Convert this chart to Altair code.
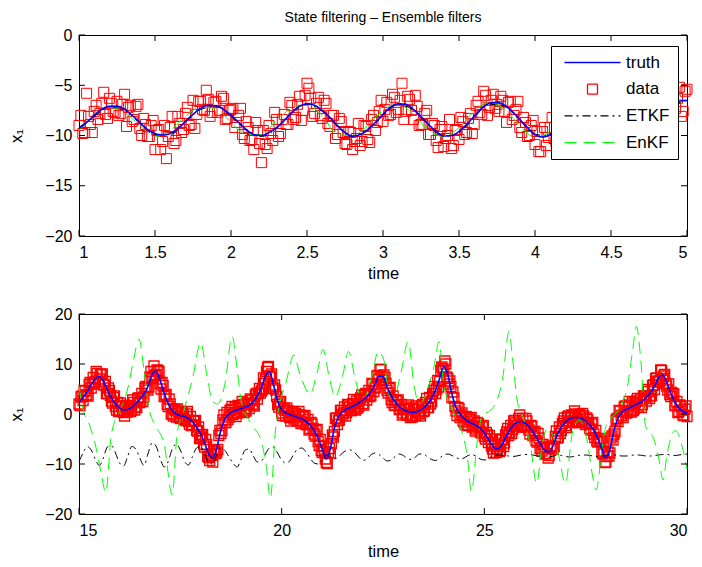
import altair as alt
import pandas as pd

FONT = "Liberation Sans"
W = 608
H1 = 201
H2 = 200

SERIES = ["truth", "data", "ETKF", "EnKF"]
COLORS = ["#0000ff", "#ff0000", "#000000", "#00ff00"]

# ---------------- top panel values ----------------
top_t_fine = [round(1.0 + 0.05 * i, 3) for i in range(81)]
top_truth = [-9.3, -8.7, -8.0, -7.4, -7.1, -7.1, -7.4, -8.0, -8.7, -9.4,
             -9.8, -9.95, -9.8, -9.3, -8.6, -7.9, -7.3, -7.0, -7.05, -7.4,
             -8.0, -8.7, -9.4, -9.9, -10.0, -9.7, -9.2, -8.5, -7.7, -7.1,
             -6.85, -7.0, -7.5, -8.2, -9.0, -9.7, -10.05, -9.9, -9.4, -8.7,
             -7.9, -7.2, -6.85, -6.9, -7.4, -8.1, -8.9, -9.6, -10.05, -10.0,
             -9.6, -8.9, -8.1, -7.3, -6.8, -6.7, -7.0, -7.6, -8.4, -9.2,
             -9.9, -10.15, -9.9, -9.3, -8.5, -7.7, -7.0, -6.65, -6.8, -7.3,
             -8.1, -9.0, -9.7, -10.15, -10.1, -9.6, -8.8, -7.9, -7.1, -6.6,
             -6.5]

top_t_data = [round(1.0 + 0.025 * i, 4) for i in range(161)]
top_data = [-9.0, -9.8, -5.8, -8.9, -7.6, -8.4, -6.8, -7.9, -6.3, -7.6,
            -6.6, -7.8, -5.9, -7.2, -8.6, -7.1, -9.3, -8.3, -10.1, -9.0,
            -11.4, -9.4, -10.6, -12.3, -9.2, -10.8, -8.1, -9.7, -7.8, -9.0,
            -6.5, -7.9, -6.6, -7.5, -6.4, -7.7, -6.6, -7.5, -6.3, -8.3,
            -7.4, -9.2, -8.0, -9.9, -8.6, -10.5, -11.4, -9.5, -12.7, -10.9,
            -9.0, -10.5, -8.4, -9.8, -7.9, -8.9, -7.0, -8.2, -6.1, -7.5,
            -4.8, -6.3, -7.8, -6.2, -8.3, -6.8, -9.1, -8.0, -9.9, -8.6,
            -10.8, -9.6, -11.4, -10.3, -11.0, -9.0, -10.4, -8.4, -9.5, -7.6,
            -8.6, -6.7, -7.9, -6.2, -7.4, -4.8, -7.6, -6.4, -8.4, -7.1,
            -8.9, -7.8, -9.9, -8.8, -10.5, -9.4, -11.1, -10.0, -11.3, -9.5,
            -10.4, -8.6, -9.7, -7.8, -8.9, -6.6, -7.9, -6.0, -7.2, -5.9,
            -6.9, -6.1, -7.6, -6.7, -8.4, -7.4, -9.2, -8.2, -10.1, -9.0,
            -10.9, -11.6, -9.6, -11.0, -9.2, -10.3, -8.5, -9.6, -7.9, -8.8,
            -7.0, -8.0, -6.3, -7.4, -5.9, -7.2, -6.1, -7.8, -6.6, -8.5,
            -7.4, -9.4, -8.2, -10.3, -9.0, -10.9, -9.7, -11.2, -9.5, -10.8,
            -8.9, -10.0, -8.0, -9.1, -7.2, -8.1, -6.0, -7.3, -5.2, -7.6,
            -5.4]

top_t_data2 = [round(1.0125 + 0.025 * i, 4) for i in range(160)]
top_data2 = [-8.0, -9.7, -8.1, -9.7, -7.0, -7.8, -5.7, -8.3, -6.8, -7.7,
             -8.0, -6.9, -9.1, -7.0, -8.4, -6.9, -10.0, -8.9, -10.1, -8.5,
             -9.5, -11.4, -9.0, -10.1, -8.1, -10.5, -8.8, -9.4, -7.2, -8.9,
             -9.3, -6.6, -7.4, -5.5, -8.1, -6.7, -7.7, -6.1, -8.4, -7.5,
             -7.3, -8.7, -7.3, -10.3, -9.2, -10.4, -8.7, -10.8, -9.5, -11.3,
             -9.8, -7.7, -10.1, -8.4, -8.9, -6.7, -8.4, -6.9, -8.5, -6.0,
             -5.3, -8.1, -6.8, -8.0, -6.5, -8.8, -8.0, -10.3, -8.3, -9.7,
             -10.9, -9.7, -10.6, -8.8, -10.6, -9.1, -10.7, -8.0, -8.7, -6.5,
             -7.4, -8.0, -5.9, -7.7, -6.5, -8.4, -6.1, -7.5, -6.0, -9.0,
             -8.9, -7.5, -9.9, -9.0, -11.2, -9.1, -10.3, -8.4, -11.0, -9.4,
             -8.2, -9.9, -8.3, -9.8, -7.0, -7.7, -5.6, -8.0, -6.5, -7.3,
             -7.6, -6.5, -8.7, -6.6, -8.0, -6.6, -9.7, -8.7, -10.0, -8.5,
             -9.6, -11.6, -9.2, -10.2, -8.2, -10.6, -8.8, -9.3, -7.1, -8.7,
             -9.0, -6.3, -7.1, -5.1, -7.8, -6.5, -7.5, -6.0, -8.3, -7.5,
             -7.4, -9.0, -7.6, -10.6, -9.5, -10.7, -9.0, -10.9, -9.6, -11.2,
             -9.6, -7.4, -9.7, -7.8, -8.3, -6.1, -7.8, -6.3, -8.1, -5.6]

top_t_filt = [round(1.0 + 0.1 * i, 3) for i in range(41)]
top_etkf = [-9.2, -8.1, -7.2, -7.5, -8.8, -9.9, -9.9, -8.7, -7.4, -7.1,
            -8.1, -9.5, -10.1, -9.3, -7.8, -6.9, -7.6, -9.1, -10.1, -9.5,
            -8.0, -6.9, -7.5, -9.0, -10.1, -9.7, -8.2, -6.9, -7.1, -8.5,
            -9.9, -10.0, -8.6, -7.1, -6.9, -8.2, -9.8, -10.2, -8.9, -7.2,
            -6.5]
top_enkf = [-9.5, -7.9, -7.2, -7.7, -9.0, -10.1, -9.5, -8.1, -7.2, -7.3,
            -8.7, -9.9, -9.9, -8.5, -7.3, -7.0, -8.0, -9.9, -10.0, -9.0,
            -7.5, -6.9, -7.9, -9.5, -10.1, -9.2, -7.6, -6.7, -7.4, -9.0,
            -10.2, -9.6, -8.0, -6.8, -7.1, -8.8, -10.1, -9.8, -8.3, -6.8,
            -6.3]

# ---------------- bottom panel values ----------------
bot_t_fine = [round(15.0 + 0.1 * i, 3) for i in range(151)]
bot_truth = [2.3, 3.3, 4.5, 5.8, 7.0, 7.5, 6.6, 4.8, 3.2, 2.0,
             1.2, 0.8, 0.9, 1.3, 2.0, 2.9, 4.0, 5.5, 7.8, 8.6,
             6.8, 4.2, 2.1, 0.7, 0.0, -0.3, -0.5, -0.9, -1.6, -2.6,
             -4.0, -5.8, -8.0, -8.8, -6.8, -3.2, -1.0, 0.0, 0.5, 0.8,
             1.1, 1.4, 1.7, 2.5, 3.6, 5.3, 7.6, 8.4, 5.8, 2.6,
             0.8, 0.2, -0.1, -0.4, -0.7, -1.0, -1.5, -2.2, -3.3, -4.8,
             -7.0, -9.0, -7.0, -2.8, -0.6, 0.4, 1.0, 1.3, 1.7, 2.2,
             2.8, 3.4, 4.4, 5.8, 7.6, 7.5, 5.4, 3.6, 2.4, 1.5,
             0.9, 0.5, 0.3, 0.4, 0.7, 1.2, 2.0, 3.2, 4.8, 7.2,
             9.5, 7.8, 4.0, 1.3, 0.0, -0.9, -1.5, -1.9, -2.3, -2.9,
             -3.8, -5.0, -6.3, -7.0, -6.6, -5.1, -3.6, -2.4, -1.7, -1.5,
             -1.8, -2.5, -3.6, -4.9, -6.2, -7.3, -7.6, -6.3, -4.1, -2.6,
             -1.6, -1.0, -0.7, -0.7, -0.9, -1.4, -2.2, -3.3, -4.9, -7.0,
             -8.8, -7.0, -3.3, -0.8, 0.4, 0.9, 1.3, 1.7, 2.1, 2.6,
             3.3, 4.3, 5.6, 7.3, 7.8, 6.3, 4.2, 2.4, 1.2, 0.5,
             0.2]

bot_t_data = [round(15.0 + 0.05 * i, 4) for i in range(301)]
bot_data = [2.0, 3.4, 2.7, 4.6, 3.8, 5.9, 5.2, 7.3, 6.4, 8.1,
            7.0, 7.9, 5.9, 6.5, 4.1, 4.7, 2.6, 3.3, 1.5, 2.3,
            0.6, 1.6, 0.3, 1.4, 0.4, 1.7, 0.8, 2.3, 1.4, 3.1,
            2.3, 4.1, 3.4, 5.5, 4.8, 7.4, 7.1, 9.6, 7.9, 8.7,
            6.1, 6.3, 3.5, 3.9, 1.5, 2.0, 0.1, 1.0, -0.6, 0.5,
            -0.9, 0.2, -1.1, 0.0, -1.5, -0.5, -2.2, -1.4, -3.3, -2.6,
            -4.7, -4.1, -6.6, -6.1, -8.7, -8.0, -9.6, -7.4, -7.6, -4.3,
            -3.9, -1.2, -1.7, 0.3, -0.6, 0.9, -0.1, 1.3, 0.2, 1.6,
            0.5, 1.9, 0.8, 2.2, 1.1, 2.7, 1.9, 3.8, 3.0, 5.1,
            4.6, 7.2, 6.9, 9.3, 7.6, 8.0, 5.1, 4.8, 1.9, 2.2,
            0.2, 1.1, -0.4, 0.7, -0.7, 0.4, -1.0, 0.1, -1.3, -0.2,
            -1.6, -0.5, -2.1, -1.1, -2.9, -2.0, -4.0, -3.3, -5.5, -5.1,
            -7.7, -7.5, -9.7, -7.7, -7.8, -4.2, -3.5, -0.8, -1.3, 0.7,
            -0.2, 1.4, 0.3, 1.8, 0.7, 2.1, 1.0, 2.6, 1.5, 3.2,
            2.1, 3.8, 2.8, 4.7, 3.7, 5.9, 5.2, 7.6, 6.9, 8.9,
            6.8, 7.3, 4.7, 5.1, 2.9, 3.6, 1.7, 2.6, 0.9, 1.9,
            0.2, 1.4, -0.2, 1.1, -0.4, 1.0, -0.3, 1.2, 0.0, 1.6,
            0.5, 2.3, 1.3, 3.3, 2.5, 4.7, 4.1, 6.7, 6.5, 9.4,
            8.8, 10.0, 7.1, 6.6, 3.3, 3.2, 0.6, 1.3, -0.7, 0.2,
            -1.6, -0.5, -2.2, -1.0, -2.6, -1.4, -3.0, -1.9, -3.6, -2.6,
            -4.5, -3.7, -5.7, -5.0, -7.0, -6.1, -7.7, -6.2, -7.3, -5.2,
            -5.8, -3.6, -4.3, -2.3, -3.1, -1.3, -2.4, -0.9, -2.2, -0.9,
            -2.5, -1.4, -3.2, -2.3, -4.3, -3.5, -5.6, -4.8, -6.9, -6.1,
            -8.0, -6.9, -8.3, -6.4, -7.0, -4.5, -4.8, -2.6, -3.3, -1.4,
            -2.3, -0.6, -1.7, -0.2, -1.4, 0.0, -1.4, -0.1, -1.6, -0.4,
            -2.1, -1.1, -2.9, -2.0, -4.0, -3.3, -5.6, -5.2, -7.7, -7.4,
            -9.6, -7.6, -7.8, -4.4, -4.0, -1.2, -1.5, 0.6, -0.3, 1.4,
            0.2, 1.8, 0.6, 2.2, 1.0, 2.6, 1.4, 3.0, 1.9, 3.6,
            2.6, 4.5, 3.6, 5.7, 4.9, 7.2, 6.6, 8.8, 7.1, 7.9,
            5.6, 6.0, 3.5, 4.0, 1.7, 2.5, 0.5, 1.5, -0.2, 1.0,
            -0.5]

bot_t_data2 = [round(15.025 + 0.05 * i, 4) for i in range(300)]
bot_data2 = [1.7, 3.6, 4.7, 3.8, 3.6, 6.3, 6.2, 6.0, 8.5, 6.5,
             7.9, 8.0, 5.8, 4.1, 5.2, 3.7, 2.2, 3.6, 0.8, 0.5,
             2.2, 0.5, -0.4, 1.7, 1.1, 0.5, 2.8, 0.8, 1.3, 3.2,
             2.8, 2.5, 5.2, 5.2, 5.4, 8.5, 7.2, 7.7, 8.8, 8.5,
             5.0, 5.7, 3.8, 1.9, 3.0, 0.0, -0.4, 0.7, 1.0, -0.6,
             0.5, -0.4, -1.3, 0.5, -2.1, -2.3, -1.4, -1.3, -3.4, -4.9,
             -4.4, -6.1, -5.1, -8.5, -9.3, -8.3, -7.4, -7.9, -7.1, -3.3,
             -3.3, -0.2, -1.7, -1.1, 0.7, 1.5, 0.2, -0.5, 1.7, 1.1,
             2.5, 0.3, 0.6, 2.1, 3.0, 1.9, 1.6, 4.1, 4.1, 4.2,
             4.9, 6.1, 8.5, 9.5, 7.5, 5.4, 5.8, 3.5, 1.4, 2.5,
             -0.3, 0.8, 1.2, -0.4, -1.4, 0.5, -0.4, -1.3, 0.5, -1.9,
             -0.6, -0.3, -2.1, -3.2, -1.7, -2.9, -4.4, -3.1, -6.3, -7.3,
             -6.5, -9.0, -9.9, -6.9, -5.9, -4.6, -0.9, -2.1, -1.2, 0.7,
             0.2, -0.4, 1.9, 1.3, 0.7, 2.9, 0.8, 1.2, 2.9, 3.8,
             1.8, 4.1, 3.8, 3.5, 6.1, 4.5, 5.4, 7.7, 8.9, 7.4,
             7.8, 6.1, 4.2, 5.3, 2.3, 1.8, 2.7, 2.8, 1.0, -0.2,
             0.9, -0.1, 1.8, -0.7, -0.6, 0.9, 1.6, 0.2, -0.4, 1.9,
             0.7, 3.1, 1.3, 2.0, 4.1, 5.5, 5.0, 5.4, 8.7, 9.1,
             10.6, 7.4, 6.0, 5.5, 4.4, 1.5, -0.3, 1.1, -0.2, -1.4,
             -2.1, -2.3, -1.1, -0.7, -2.4, -3.4, -1.7, -2.7, -3.8, -2.3,
             -5.0, -4.2, -4.3, -6.4, -7.8, -6.1, -6.9, -7.5, -5.0, -6.5,
             -4.2, -2.9, -3.7, -3.9, -1.4, -1.8, -2.3, -0.2, -2.6, -2.6,
             -0.9, -2.7, -4.0, -2.5, -3.8, -5.3, -3.9, -6.9, -7.4, -6.6,
             -7.9, -8.8, -6.6, -6.6, -6.5, -3.4, -4.7, -3.9, -1.9, -0.8,
             -2.7, -0.4, -0.8, -1.5, 0.6, -1.7, -1.7, -0.4, 0.1, -1.7,
             -0.8, -1.9, -3.2, -1.7, -4.7, -5.4, -4.9, -5.4, -8.0, -9.7,
             -8.5, -8.4, -4.8, -5.2, -3.5, -0.9, 0.7, -0.3, -0.7, 1.6,
             0.3, 2.5, 0.4, 0.7, 2.3, 3.1, 1.8, 1.3, 3.6, 3.2,
             4.9, 3.1, 3.7, 5.8, 7.1, 6.5, 6.4, 8.7, 7.6, 6.1,
             4.8, 3.9, 4.3, 4.0, 1.7, 0.3, 1.8, 0.8, -0.3, 1.6]

bot_etkf = [-9.5, -7.8, -6.5, -7.2, -9.0, -10.3, -8.8, -6.6, -6.3, -7.8,
            -9.8, -10.4, -8.5, -6.5, -7.0, -8.8, -10.3, -8.0, -5.8, -6.4,
            -8.8, -10.6, -9.5, -7.0, -6.0, -7.2, -9.4, -10.2, -8.5, -6.8,
            -6.5, -8.0, -9.8, -10.0, -8.2, -6.8, -7.3, -8.6, -9.8, -10.6,
            -9.0, -7.2, -7.0, -8.4, -9.6, -9.4, -8.0, -6.8, -6.6, -7.8,
            -9.2, -9.8, -9.4, -8.0, -7.0, -6.8, -7.6, -8.8, -9.8, -10.0,
            -9.2, -8.2, -8.6, -9.0, -8.6, -7.8, -7.3, -7.2, -7.7, -8.6,
            -9.3, -9.0, -8.2, -7.8, -8.1, -8.8, -9.4, -9.2, -8.5, -8.0,
            -8.3, -8.9, -9.1, -8.6, -8.0, -8.0, -8.6, -9.1, -9.3, -8.8,
            -8.2, -8.0, -8.3, -8.7, -9.0, -8.8, -8.3, -8.1, -8.5, -9.0,
            -9.2, -8.9, -8.4, -8.2, -8.2, -8.3, -8.4, -8.5, -8.4, -8.2,
            -8.1, -8.1, -8.2, -8.4, -8.6, -8.7, -8.6, -8.4, -8.2, -8.3,
            -8.5, -8.6, -8.5, -8.3, -8.2, -8.2, -8.3, -8.4, -8.5, -8.4,
            -8.3, -8.2, -8.2, -8.3, -8.4, -8.4, -8.3, -8.2, -8.2, -8.3,
            -8.4, -8.4, -8.3, -8.2, -8.1, -8.1, -8.2, -8.3, -8.2, -8.1,
            -8.0]

bot_enkf_t = [15.0, 15.1, 15.25, 15.4, 15.55, 15.66, 15.8, 16.0, 16.2, 16.35,
              16.48, 16.6, 16.73, 16.9, 17.1, 17.3, 17.42, 17.59, 17.8, 18.0,
              18.15, 18.3, 18.42, 18.6, 18.78, 18.9, 19.0, 19.24, 19.5, 19.62,
              19.72, 19.85, 19.95, 20.1, 20.3, 20.45, 20.7, 20.87, 21.02, 21.17,
              21.32, 21.5, 21.65, 21.82, 22.0, 22.24, 22.38, 22.52, 22.65, 22.75,
              22.94, 23.12, 23.27, 23.4, 23.6, 23.76, 23.88, 24.0, 24.25, 24.46,
              24.58, 24.68, 24.83, 24.95, 25.16, 25.3, 25.45, 25.61, 25.7, 25.81,
              25.98, 26.14, 26.29, 26.43, 26.55, 26.7, 26.84, 27.0, 27.17, 27.34,
              27.55, 27.66, 27.76, 27.91, 28.0, 28.24, 28.4, 28.53, 28.66, 28.75,
              28.86, 28.98, 29.19, 29.31, 29.41, 29.5, 29.64, 29.72, 29.88, 30.0]
bot_enkf_v = [5.5, 1.0, -2.0, -6.0, -12.0, -15.7, -4.0, 0.5, 5.0, 11.0,
              15.0, 9.0, 1.0, -2.5, -6.0, -16.2, -4.0, 0.8, 7.0, 14.3,
              8.0, 2.5, 2.0, 6.0, 15.5, 9.0, 2.8, -1.9, -5.5, -10.5,
              -16.9, -3.0, 2.0, 6.1, 11.8, 8.0, 4.0, 8.1, 12.9, 7.5,
              3.5, 7.5, 12.5, 6.8, 2.8, 8.1, 12.5, 10.8, 3.8, 3.0,
              8.1, 14.5, 5.5, 2.0, 5.0, 9.5, 14.5, 6.0, 0.2, -3.9,
              -8.5, -15.5, -5.2, -0.2, 0.8, 2.5, 7.0, 16.5, 10.8, 2.8,
              -1.2, -6.5, -13.9, -5.9, -3.0, -4.5, -8.5, -13.9, -3.9, -1.2,
              -5.9, -11.9, -15.2, -6.5, -2.5, 0.1, 2.1, 5.5, 12.8, 17.5,
              10.8, -2.5, -5.2, -9.2, -13.2, -8.5, -3.9, -3.3, -6.5, -11.0]

top_xticks = [1, 1.5, 2, 2.5, 3, 3.5, 4, 4.5, 5]
top_yticks = [-20, -15, -10, -5, 0]
bot_xticks = [15, 20, 25, 30]
bot_yticks = [-20, -10, 0, 10, 20]


def series_df(ts, vs, name):
    return pd.DataFrame({"t": ts, "v": vs, "series": name})


def encs(xdom, ydom, xticks, yticks):
    x = alt.X("t:Q", scale=alt.Scale(domain=xdom, nice=False, zero=False),
              axis=alt.Axis(values=xticks, format="~r", title="time", ticks=False,
                            domain=False, grid=False, labelPadding=8, titlePadding=5))
    y = alt.Y("v:Q", scale=alt.Scale(domain=ydom, nice=False, zero=False),
              axis=alt.Axis(values=yticks, format="~r", title="x\u2081", ticks=False,
                            domain=False, grid=False, labelPadding=7, titlePadding=20))
    return x, y


def tick_layers(xticks, yticks, x, y, h):
    xt = pd.DataFrame({"t": xticks})
    yt = pd.DataFrame({"v": yticks})
    base_x = alt.Chart(xt).mark_rule(color="black", strokeWidth=1)
    base_y = alt.Chart(yt).mark_rule(color="black", strokeWidth=1)
    return [
        base_x.encode(x=x, y=alt.value(h), y2=alt.value(h - 6)),
        base_x.encode(x=x, y=alt.value(0), y2=alt.value(6)),
        base_y.encode(y=y, x=alt.value(0), x2=alt.value(6)),
        base_y.encode(y=y, x=alt.value(W), x2=alt.value(W - 6)),
    ]


# ---------------- top chart ----------------
xT, yT = encs([1, 5], [-20, 0], top_xticks, top_yticks)

leg = alt.Legend(title=None, orient="none", legendX=472, legendY=11,
                 fillColor="white", strokeColor="black", padding=8,
                 labelFont=FONT, labelFontSize=17, labelColor="black",
                 symbolSize=100, symbolStrokeWidth=1.3, rowPadding=8.7,
                 symbolOffset=25, labelOffset=25)
color_scale = alt.Scale(domain=SERIES, range=COLORS)
shape_scale = alt.Scale(domain=SERIES,
                        range=["M-5.6,0L5.6,0", "square", "M-5.6,0L5.6,0", "M-5.6,0L5.6,0"])
dash_scale = alt.Scale(domain=SERIES, range=[[1, 0], [1, 0], [8, 4, 2, 4], [12, 7]])

col = alt.Color("series:N", scale=color_scale, legend=leg)
shp = alt.Shape("series:N", scale=shape_scale, legend=leg)
dsh = alt.StrokeDash("series:N", scale=dash_scale, legend=leg)

top_points = pd.concat([series_df(top_t_data, top_data, "data"),
                        series_df(top_t_data2, top_data2, "data")])
t_data = alt.Chart(top_points).mark_point(
    filled=False, size=100, strokeWidth=1, opacity=1).encode(x=xT, y=yT, color=col, shape=shp)
t_etkf = alt.Chart(series_df(top_t_filt, top_etkf, "ETKF")).mark_line(
    strokeWidth=1, interpolate="monotone").encode(x=xT, y=yT, color=col, strokeDash=dsh)
t_enkf = alt.Chart(series_df(top_t_filt, top_enkf, "EnKF")).mark_line(
    strokeWidth=1, interpolate="monotone").encode(x=xT, y=yT, color=col, strokeDash=dsh)
t_truth = alt.Chart(series_df(top_t_fine, top_truth, "truth")).mark_line(
    strokeWidth=1.6, interpolate="monotone").encode(x=xT, y=yT, color=col, strokeDash=dsh)

top = alt.layer(t_data, t_etkf, t_enkf, t_truth,
                *tick_layers(top_xticks, top_yticks, xT, yT, H1)).properties(
    width=W, height=H1,
    title=alt.TitleParams("State filtering \u2013 Ensemble filters", offset=2,
                          font=FONT, fontSize=14, fontWeight="normal", color="black"))

# ---------------- bottom chart ----------------
xB, yB = encs([15, 30], [-20, 20], bot_xticks, bot_yticks)

bot_points = pd.concat([series_df(bot_t_data, bot_data, "data"),
                        series_df(bot_t_data2, bot_data2, "data")])
b_data = alt.Chart(bot_points).mark_point(
    shape="square", filled=False, size=100, strokeWidth=1.3, opacity=1,
    color="#ff0000").encode(x=xB, y=yB)
b_etkf = alt.Chart(series_df(bot_t_fine, bot_etkf, "ETKF")).mark_line(
    strokeWidth=1, interpolate="monotone", color="#000000",
    strokeDash=[8, 4, 2, 4]).encode(x=xB, y=yB)
b_enkf = alt.Chart(series_df(bot_enkf_t, bot_enkf_v, "EnKF")).mark_line(
    strokeWidth=1, interpolate="monotone", color="#00ff00",
    strokeDash=[12, 7]).encode(x=xB, y=yB)
b_truth = alt.Chart(series_df(bot_t_fine, bot_truth, "truth")).mark_line(
    strokeWidth=1.6, interpolate="monotone", color="#0000ff").encode(x=xB, y=yB)

bottom = alt.layer(b_data, b_etkf, b_enkf, b_truth,
                   *tick_layers(bot_xticks, bot_yticks, xB, yB, H2)).properties(
    width=W, height=H2)

chart = alt.vconcat(top, bottom, spacing=78, bounds="flush").resolve_legend(
    color="independent", shape="independent", strokeDash="independent"
).properties(
    padding={"left": 8, "top": 10, "right": 0, "bottom": 0},
    background="white",
).configure_view(stroke="black", strokeWidth=1).configure_axis(
    labelFont=FONT, labelFontSize=16, labelColor="black",
    titleFont=FONT, titleFontSize=16.5, titleFontWeight="normal", titleColor="black",
)

chart.save("out.html", embed_options={"renderer": "svg", "actions": False})
